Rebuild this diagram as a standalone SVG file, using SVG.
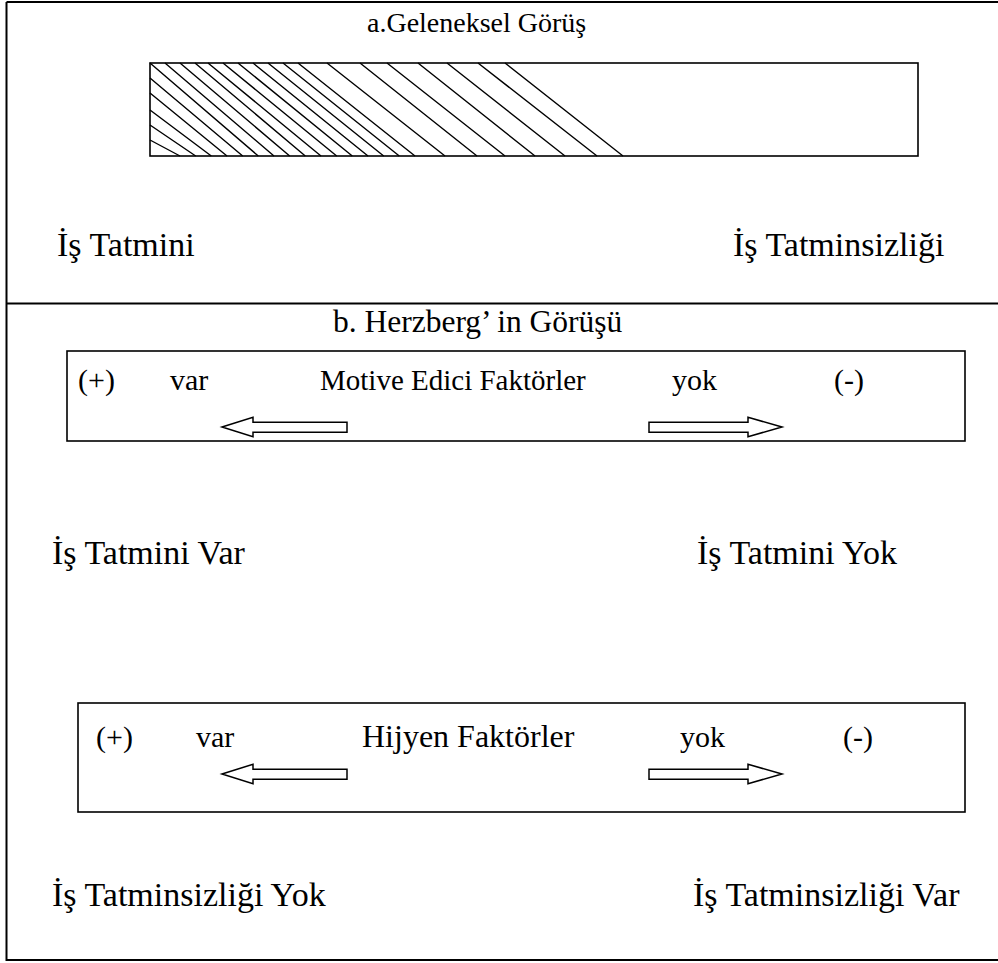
<svg xmlns="http://www.w3.org/2000/svg" width="998" height="963" viewBox="0 0 998 963">
  <style>
    .frame { fill: none; stroke: #000; stroke-width: 2; }
    .box { fill: none; stroke: #000; stroke-width: 1.6; }
    .hatch { fill: none; stroke: #000; stroke-width: 1.4; }
    .arrow { fill: #fff; stroke: #000; stroke-width: 1.5; stroke-linejoin: miter; }
    text { font-family: "Liberation Serif", "Times New Roman", serif; font-size: 30px; fill: #000; }
    .title { font-size: 28px; }
    .label { font-size: 34px; }
  </style>
  <rect width="998" height="963" fill="#fff"/>

  <!-- outer frame and section divider -->
  <g id="frame">
    <path class="frame" d="M6.5,2 H998 M6.5,2 V960 H998 M6.5,303.5 H998"/>
  </g>

  <!-- a. traditional view: single continuum -->
  <g id="traditional">
    <text class="title" x="367" y="32">a.Geleneksel Görüş</text>
    <g id="continuum">
      <path class="hatch" d="
        M150,140 L180,156 M150,125 L195.7,156 M150,110 L211.3,156 M150,93 L227,156
        M150,78 L242.7,156 M150,63 L258.3,156
        M165,63 L274,156 M180,63 L289.7,156 M195,63 L305.3,156 M208,63 L321,156
        M223,63 L336.7,156 M238,63 L352.3,156 M253,63 L368,156 M268,63 L383.7,156
        M283,63 L399.3,156 M298,63 L415,156
        M327,63 L445,156 M360,63 L477,156 M387,63 L505,156 M418,63 L535,156
        M447,63 L565,156 M478,63 L597,156 M505,63 L623,156"/>
      <rect class="box" x="150" y="63" width="768" height="93"/>
    </g>
    <text id="label-satisfaction" class="label" x="57" y="256">İş Tatmini</text>
    <text id="label-dissatisfaction" class="label" x="733" y="256">İş Tatminsizliği</text>
  </g>

  <!-- b. Herzberg's view: two separate continua -->
  <text id="title-b" x="333" y="332" style="font-size:31.5px">b. Herzberg’ in Görüşü</text>

  <g id="motivators">
    <rect class="box" x="67" y="351" width="898" height="90"/>
    <text x="78" y="390">(+)</text>
    <text x="170" y="390">var</text>
    <text x="320" y="390" style="font-size:29px">Motive Edici Faktörler</text>
    <text x="672" y="390">yok</text>
    <text x="834" y="390">(-)</text>
  </g>

  <g id="hygiene">
    <rect class="box" x="78" y="703" width="887" height="109"/>
    <text x="96" y="747">(+)</text>
    <text x="196" y="747">var</text>
    <text x="362" y="747" style="font-size:32px">Hijyen Faktörler</text>
    <text x="680" y="747">yok</text>
    <text x="843" y="747">(-)</text>
  </g>

  <g id="connectors">
    <!-- motivators -->
    <path class="arrow" d="M222,427 L253,417.3 V422.3 H347 V432.3 H253 V436.7 Z"/>
    <path class="arrow" d="M782,427 L748,417.3 V422.3 H649 V432.3 H748 V436.7 Z"/>
    <!-- hygiene factors -->
    <path class="arrow" d="M222,774 L253,764.3 V769.3 H347 V779.3 H253 V783.7 Z"/>
    <path class="arrow" d="M782,774 L748,764.3 V769.3 H649 V779.3 H748 V783.7 Z"/>
  </g>

  <g id="outcomes">
    <text class="label" x="52" y="564">İş Tatmini Var</text>
    <text class="label" x="697" y="564">İş Tatmini Yok</text>
    <text class="label" x="52" y="906">İş Tatminsizliği Yok</text>
    <text class="label" x="693" y="906">İş Tatminsizliği Var</text>
  </g>
</svg>
